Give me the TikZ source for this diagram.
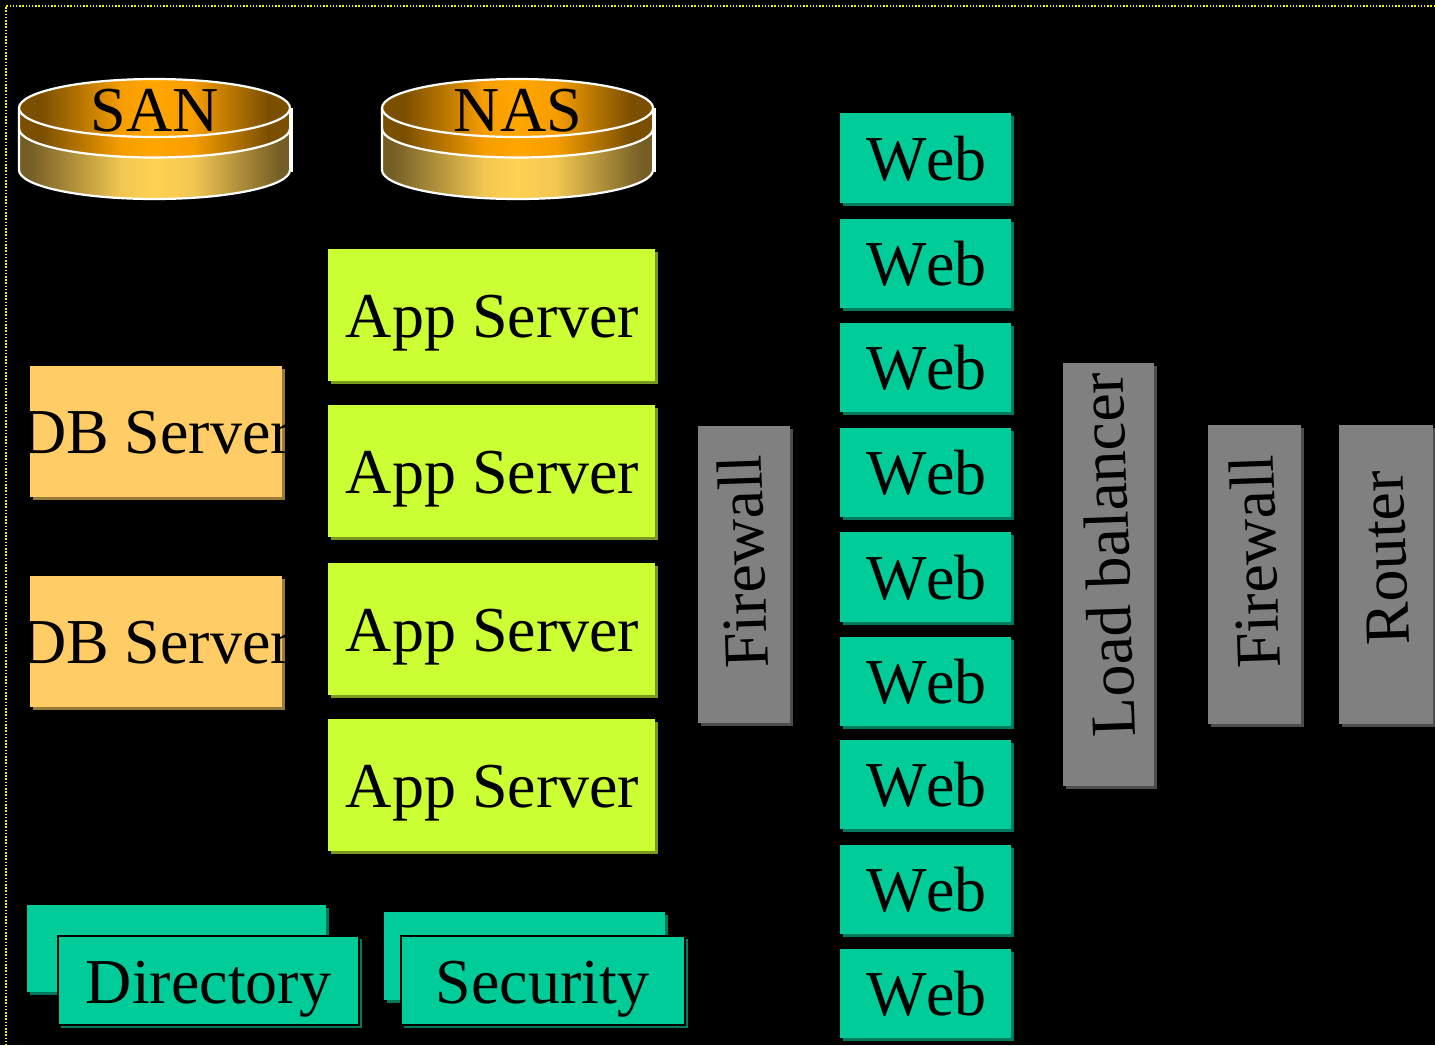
\documentclass[tikz,border=0pt]{standalone}
\usepackage{fontspec}
\setmainfont[Kerning=Off]{Liberation Serif}
\usetikzlibrary{shadows}
\definecolor{appfill}{HTML}{CCFF33}
\definecolor{appshade}{HTML}{7A991F}
\definecolor{webfill}{HTML}{00CC99}
\definecolor{webshade}{HTML}{007A5C}
\definecolor{dbfill}{HTML}{FFCC66}
\definecolor{dbshade}{HTML}{997A3D}
\definecolor{netfill}{HTML}{808080}
\definecolor{netshade}{HTML}{4D4D4D}
\definecolor{frameline}{HTML}{F2F200}
\pgfdeclarehorizontalshading{topshade}{100bp}{
 rgb(0bp)=(0.46,0.30,0);rgb(29bp)=(0.48,0.31,0);rgb(44bp)=(0.97,0.62,0);rgb(50bp)=(1,0.65,0);rgb(57bp)=(0.97,0.62,0);rgb(71bp)=(0.48,0.31,0);rgb(100bp)=(0.46,0.30,0)}
\pgfdeclarehorizontalshading{sideshade}{100bp}{
 rgb(0bp)=(0.46,0.37,0.15);rgb(27bp)=(0.46,0.37,0.15);rgb(44bp)=(0.95,0.78,0.32);rgb(50bp)=(1,0.82,0.32);rgb(57bp)=(0.95,0.78,0.32);rgb(73bp)=(0.46,0.37,0.15);rgb(100bp)=(0.46,0.37,0.15)}
\tikzset{
 x=1pt,y=-1pt,
 plate/.style={rectangle,inner sep=0pt,outer sep=0pt},
 appbox/.style={plate,fill=appfill,drop shadow={shadow xshift=2.5pt,shadow yshift=-2.5pt,fill=appshade,opacity=1}},
 webbox/.style={plate,fill=webfill,drop shadow={shadow xshift=2.5pt,shadow yshift=-2.5pt,fill=webshade,opacity=1}},
 frontbox/.style={webbox,draw=black,line width=1.5pt},
 dbbox/.style={plate,fill=dbfill,drop shadow={shadow xshift=2.5pt,shadow yshift=-2.5pt,fill=dbshade,opacity=1}},
 netbox/.style={plate,fill=netfill,drop shadow={shadow xshift=2.5pt,shadow yshift=-2.5pt,fill=netshade,opacity=1}},
 caption/.style={inner sep=0pt,outer sep=0pt,anchor=base,text=black,font=\fontsize{64pt}{70pt}\selectfont},
 upcaption/.style={caption,rotate=92},
 rim/.style={draw=white,line width=2.2pt},
}
% \bx{name}{style}{x1}{y1}{x2}{y2}
\newcommand{\bx}[6]{\node[#2,minimum width={(#5-#3)*1pt},minimum height={(#6-#4)*1pt}] (#1) at ({(#3+#5)/2},{(#4+#6)/2}) {};}
% \disc{name}{left x}{caption}
\newcommand{\disc}[3]{%
 \path[shading=sideshade] (#2,128.5) -- (#2,170) arc (180:360:135.5pt and 29pt) -- ({#2+271},128.5) arc (360:180:135.5pt and 29pt) -- cycle;
 \path[shading=topshade] (#2,108) -- (#2,128.5) arc (180:360:135.5pt and 29pt) -- ({#2+271},108) arc (360:180:135.5pt and 29pt) -- cycle;
 \path[shading=topshade] (#2,108) arc (180:-180:135.5pt and 29pt) -- cycle;
 \draw[rim] (#2,108) arc (180:-180:135.5pt and 29pt) -- cycle;
 \draw[rim] (#2,128.5) arc (180:360:135.5pt and 29pt);
 \draw[rim] (#2,108) -- (#2,170) arc (180:360:135.5pt and 29pt);
 \draw[rim] ({#2+271},108) -- ({#2+271},170);
 \draw[white,line width=1.5pt] ({#2+273},108) -- ({#2+273},172);
 \node[caption] (#1) at ({#2+136},131) {#3};}
\begin{document}
\begin{tikzpicture}
\useasboundingbox (0,0) rectangle (1435,1045);
\fill[black] (0,0) rectangle (1435,1045);
\draw[frameline,line width=1.5pt,dash pattern=on 1.5pt off 1.7pt] (1435,5.8) -- (6,5.8) -- (6,1045);
\disc{san}{19}{SAN}
\disc{nas}{382}{NAS}
% application servers
\bx{app1}{appbox}{328}{249}{655}{381}
\bx{app2}{appbox}{328}{405}{655}{537}
\bx{app3}{appbox}{328}{563}{655}{695}
\bx{app4}{appbox}{328}{719}{655}{851}
\node[caption] (appt1) at (492.5,337) {App Server};
\node[caption] (appt2) at (492.5,493) {App Server};
\node[caption] (appt3) at (492.5,651) {App Server};
\node[caption] (appt4) at (492.5,807) {App Server};
% database servers
\bx{db1}{dbbox}{30}{366}{282}{497}
\bx{db2}{dbbox}{30}{576}{282}{707}
\node[caption] (dbt1) at (156,453) {DB Server};
\node[caption] (dbt2) at (156,663) {DB Server};
% web servers
\bx{web1}{webbox}{840}{113}{1011}{203}
\bx{web2}{webbox}{840}{219}{1011}{308}
\bx{web3}{webbox}{840}{323}{1011}{412}
\bx{web4}{webbox}{840}{428}{1011}{517}
\bx{web5}{webbox}{840}{532}{1011}{622}
\bx{web6}{webbox}{840}{637}{1011}{726}
\bx{web7}{webbox}{840}{740}{1011}{829}
\bx{web8}{webbox}{840}{845}{1011}{934}
\bx{web9}{webbox}{840}{949}{1011}{1038}
\node[caption] (webt1) at (926.5,180) {Web};
\node[caption] (webt2) at (926.5,285) {Web};
\node[caption] (webt3) at (926.5,389) {Web};
\node[caption] (webt4) at (926.5,494) {Web};
\node[caption] (webt5) at (926.5,599) {Web};
\node[caption] (webt6) at (926.5,703) {Web};
\node[caption] (webt7) at (926.5,806) {Web};
\node[caption] (webt8) at (926.5,911) {Web};
\node[caption] (webt9) at (926.5,1015) {Web};
% network devices
\bx{fw1}{netbox}{698}{426}{790}{723}
\bx{lb}{netbox}{1063}{363}{1154}{786}
\bx{fw2}{netbox}{1208}{425}{1301}{724}
\bx{rt}{netbox}{1339}{425}{1433}{724}
\node[upcaption] (fw1t) at (764.5,561) {Firewall};
\node[upcaption] (lbt) at (1129,554) {Load balancer};
\node[upcaption] (fw2t) at (1276.5,561) {Firewall};
\node[upcaption] (rtt) at (1406,557.5) {Router};
% directory and security
\bx{dirb}{webbox}{27}{905}{326}{992}
\bx{dirf}{frontbox}{58}{936}{359}{1025}
\node[caption] (dirt) at (208.5,1003) {Directory};
\bx{secb}{webbox}{384}{912}{665}{1000}
\bx{secf}{frontbox}{401}{936}{685}{1025}
\node[caption] (sect) at (542.5,1003) {Security};
\end{tikzpicture}
\end{document}
